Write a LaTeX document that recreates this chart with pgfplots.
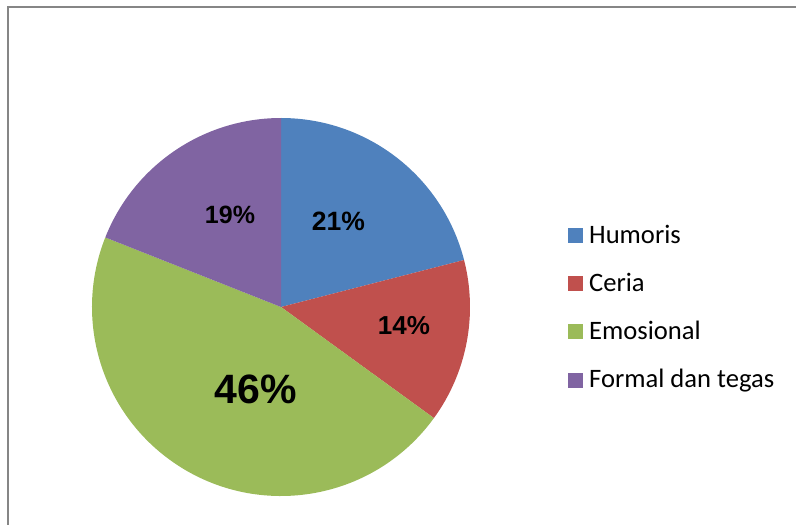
\documentclass[border=0pt]{standalone}
\usepackage{pgfplots}
\pgfplotsset{compat=1.18}
\usepackage{pgfplotstable}
\usepackage{fontspec}
\setmainfont{Carlito}
\newfontfamily\labfont{Liberation Sans}

\definecolor{pie0}{HTML}{4F81BD}
\definecolor{pie1}{HTML}{C0504D}
\definecolor{pie2}{HTML}{9BBB59}
\definecolor{pie3}{HTML}{8064A2}
\definecolor{framegray}{RGB}{134,134,134}

\begin{document}
% slice values (percent), label offsets from the centre (bp), label size (bp)
\pgfplotstableread[col sep=comma]{
label,value,dx,dy,size
Humoris,21,57.5,86,26.5
Ceria,14,123,-19,26
Emosional,46,-25,-82,41
Formal dan tegas,19,-51,92,25
}\piedata
\begin{tikzpicture}
% start and end angles, clockwise from 12 o'clock
\xdef\acc{90}
\foreach \i in {0,...,3}{
  \pgfplotstablegetelem{\i}{value}\of\piedata
  \let\v\pgfplotsretval
  \pgfmathsetmacro\e{\acc-3.6*\v}
  \expandafter\xdef\csname pieS\i\endcsname{\acc}
  \expandafter\xdef\csname pieE\i\endcsname{\e}
  \expandafter\xdef\csname pieV\i\endcsname{\v}
  \pgfplotstablegetelem{\i}{label}\of\piedata
  \expandafter\xdef\csname pieL\i\endcsname{\pgfplotsretval}
  \pgfplotstablegetelem{\i}{dx}\of\piedata
  \expandafter\xdef\csname pieX\i\endcsname{\pgfplotsretval}
  \pgfplotstablegetelem{\i}{dy}\of\piedata
  \expandafter\xdef\csname pieY\i\endcsname{\pgfplotsretval}
  \pgfplotstablegetelem{\i}{size}\of\piedata
  \expandafter\xdef\csname pieF\i\endcsname{\pgfplotsretval}
  \xdef\acc{\e}
}
\begin{axis}[x=1bp, y=1bp, xmin=0, xmax=796, ymin=0, ymax=525,
  scale only axis, hide axis, clip=false]
  \draw[framegray, line width=2bp] (axis cs:8.3,-10) -- (axis cs:8.3,518) -- (axis cs:810,518);
  \pgfplotsinvokeforeach{0,...,3}{
    \fill[pie#1] (axis cs:281,218) -- ++(\csname pieS#1\endcsname:189bp)
      arc[start angle=\csname pieS#1\endcsname, end angle=\csname pieE#1\endcsname, radius=189bp] -- cycle;
    \node[inner sep=0, font=\labfont\bfseries\fontsize{\csname pieF#1\endcsname bp}{12bp}\selectfont]
      at (axis cs:{281+\csname pieX#1\endcsname},{218+\csname pieY#1\endcsname}) {\csname pieV#1\endcsname\%};
    % legend
    \fill[pie#1] (axis cs:568,{289.5-48.2*#1-7.5}) rectangle (axis cs:583,{289.5-48.2*#1+7.5});
    \node[inner sep=0, anchor=base west, font=\fontsize{26.6bp}{30bp}\selectfont]
      at (axis cs:589,{282-48.2*#1}) {\csname pieL#1\endcsname};
  }
\end{axis}
\pgfresetboundingbox
\useasboundingbox (0,0) rectangle (796bp,525bp);
\end{tikzpicture}
\end{document}
